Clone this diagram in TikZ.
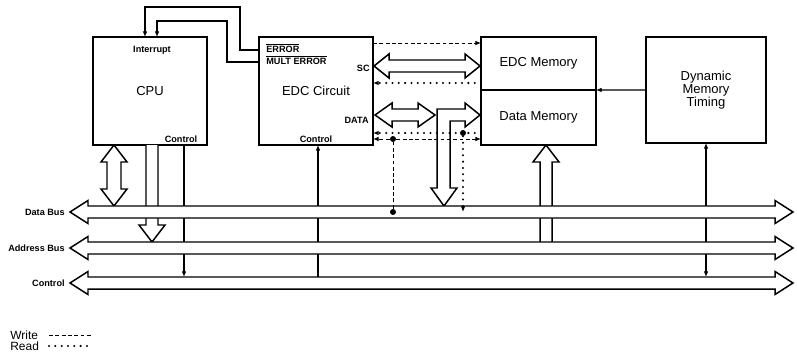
\documentclass[tikz,border=0pt]{standalone}
\usepackage{fontspec}
\setmainfont{Liberation Sans}
\usetikzlibrary{arrows.meta}

\begin{document}
\begin{tikzpicture}[x=0.02cm,y=-0.02cm,>={Latex[length=3.2pt,width=2.6pt]},
  box/.style={draw,line width=1pt,inner sep=0pt,outer sep=0pt,align=center,font=\fontsize{7.4}{7.2}\selectfont},
  tinylbl/.style={inner sep=0pt,font=\fontsize{5.2}{6}\selectfont\bfseries},
  legendlbl/.style={inner sep=0pt,anchor=west,font=\fontsize{6.8}{7}\selectfont},
  hollow/.style={draw,fill=white,line width=0.85pt,line join=miter},
  sig/.style={line width=0.6pt},
  writeline/.style={line width=0.55pt,dash pattern=on 2.2pt off 1.4pt},
  readline/.style={line width=1.3pt,line cap=round,dash pattern=on 0pt off 3.6pt},
  dot/.style={circle,fill,inner sep=0pt,minimum size=3.4pt}]
\useasboundingbox (0,0) rectangle (797,358);

% units
\node[box,minimum width=2.28cm,minimum height=2.16cm] (cpu) at (150,91) {CPU};
\node[box,minimum width=2.28cm,minimum height=2.16cm] (edc) at (316,91) {EDC Circuit};
\node[box,minimum width=2.3cm,minimum height=1.06cm] (edcmem) at (538.5,63.5) {EDC Memory};
\node[box,minimum width=2.3cm,minimum height=1.1cm] (datamem) at (538.5,117.5) {Data Memory};
\node[box,minimum width=2.4cm,minimum height=2.12cm] (dmt) at (706,90) {Dynamic\\Memory\\Timing};

% small labels
\node[tinylbl] (intr) at (152,50) {Interrupt};
\node[tinylbl] (cpuctl) at (181,139) {Control};
\node[tinylbl] (edcctl) at (316,139) {Control};
\node[tinylbl,anchor=west] (err) at (266,48) {$\overline{\hbox{ERROR}}$};
\node[tinylbl,anchor=west] (merr) at (266,60) {$\overline{\hbox{MULT ERROR}}$};
\node[tinylbl,anchor=east] (sc) at (370,68) {SC};
\node[tinylbl,anchor=east] (datalbl) at (369,120) {DATA};

% interrupt lines
\draw[sig,->] (edc.west |- 0,50) -| (240,7) -| (cpu.north -| 145,0);
\draw[sig,->] (edc.west |- 0,62) -| (227,21) -| (cpu.north -| 157,0);
\draw[sig,->] (dmt.west) -- (edcmem.south east);

% check bits
\draw[hollow] (374,66) -- (389,54) -- (389,60) -- (465,60) -- (465,54) -- (480,66)
  -- (465,78) -- (465,72) -- (389,72) -- (389,78) -- cycle;
\draw[writeline,->] (edc.east |- 0,43) -- (edcmem.west |- 0,43);
\draw[readline,->] (edcmem.west |- 0,83) -- (edc.east |- 0,83);

% data path
\draw[hollow] (375,115) -- (392,103) -- (392,109) -- (418,109) -- (418,103) -- (435,115)
  -- (418,127) -- (418,121) -- (392,121) -- (392,127) -- cycle;
\draw[hollow] (437,109) -- (465,109) -- (465,103) -- (480,115) -- (465,127) -- (465,121)
  -- (450,121) -- (450,188) -- (457,188) -- (444,206) -- (431,188) -- (437,188) -- cycle;

% lines down to the buses
\draw[hollow] (114,145) -- (127,162) -- (121,162) -- (121,189) -- (127,189) -- (114,206)
  -- (101,189) -- (107,189) -- (107,162) -- (101,162) -- cycle;
\draw[hollow] (146,145) -- (146,225) -- (139,225) -- (152,242) -- (165,225) -- (158,225) -- (158,145);
\draw[hollow] (540,242) -- (540,162) -- (533,162) -- (546,145) -- (559,162) -- (552,162) -- (552,242);
\draw[sig,->] (cpu.south -| 184,0) -- (184,277);
\draw[sig,<-] (edc.south -| 318,0) -- (318,277);
\draw[sig,<->] (dmt.south) -- (706,277);

% buses
\foreach \y/\txt in {212/Data Bus,248/Address Bus,283/Control}{
  \draw[hollow] (70,\y) -- (88,{\y-11.5}) -- (88,{\y-6}) -- (775,{\y-6}) -- (775,{\y-11.5}) -- (793,\y)
    -- (775,{\y+11.5}) -- (775,{\y+6}) -- (88,{\y+6}) -- (88,{\y+11.5}) -- cycle;
  \node[tinylbl,anchor=east] (bus\y) at (65,\y) {\txt};
}

% read / write of data
\node[dot] (rjoin) at (463,133) {};
\node[dot] (wjoin) at (393,139) {};
\node[dot] (wbus) at (393,212) {};
\coordinate (rbus) at (463,212);
\draw[readline,->] (datamem.west |- rjoin) -- (edc.east |- rjoin);
\draw[readline,->] (rjoin) -- (rbus);
\draw[writeline,->] (wjoin) -- (edc.east |- wjoin);
\draw[writeline,->] (wjoin) -- (datamem.west |- wjoin);
\draw[writeline] (wbus) -- (wjoin);

% legend
\node[legendlbl] (wrlg) at (10,335) {Write};
\node[legendlbl] (rdlg) at (10,346) {Read};
\draw[writeline] (wrlg.east -| 49,0) -- ++(43,0);
\draw[readline] (rdlg.east -| 49,0) -- ++(41,0);
\end{tikzpicture}
\end{document}
